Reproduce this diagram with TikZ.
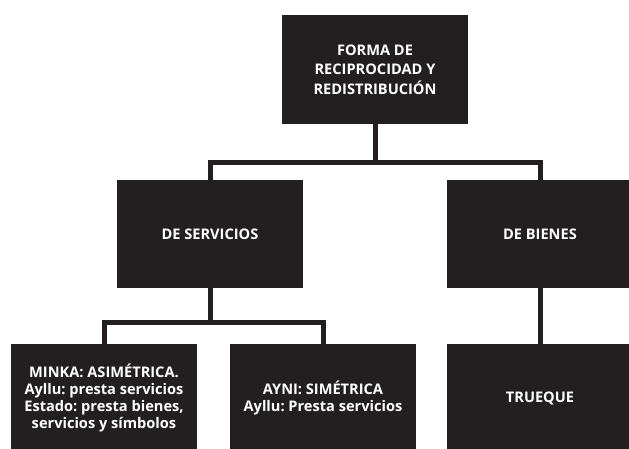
\documentclass[tikz,border=0pt]{standalone}
\usepackage{fontspec}
\setmainfont{Open Sans}
\frenchspacing
\definecolor{boxblack}{RGB}{35,31,32}

\tikzset{
  box/.style={fill=boxblack, text=white, inner sep=0pt, align=center,
    minimum width=186pt, minimum height=108pt,
    font=\bfseries\fontsize{14.6}{16.7}\selectfont},
  link/.style={draw=boxblack, line width=5pt, line join=miter}
}

\begin{document}
\begin{tikzpicture}[x=1pt, y=-1pt]
            \useasboundingbox (0,0) rectangle (629,449);
            \clip (0,0) rectangle (629,449);

            \node[box, minimum height=109pt, font=\bfseries\fontsize{14.6}{19.5}\selectfont] (forma) at (375,69.5) {FORMA DE\\RECIPROCIDAD Y\\REDISTRIBUCIÓN};
            \node[box] (servicios) at (210,234) {DE SERVICIOS};
            \node[box] (bienes) at (540,234) {DE BIENES};
            \node[box] (minka) at (104,398) {MINKA: ASIMÉTRICA.\\Ayllu: presta servicios\\Estado: presta bienes,\\servicios y símbolos};
            \node[box] (ayni) at (323,398) {AYNI: SIMÉTRICA\\Ayllu: Presta servicios};
            \node[box] (trueque) at (540,398) {TRUEQUE};

            \coordinate (split1) at (375,162.5);
            \coordinate (split2) at (210,322.5);

            \draw[link] (forma.south) -- (split1);
            \draw[link] (servicios.north) |- (split1) -| (bienes.north);
            \draw[link] (servicios.south) -- (split2);
            \draw[link] (minka.north) |- (split2) -| (ayni.north);
            \draw[link] (bienes.south) -- (trueque.north);
        \end{tikzpicture}
\end{document}
